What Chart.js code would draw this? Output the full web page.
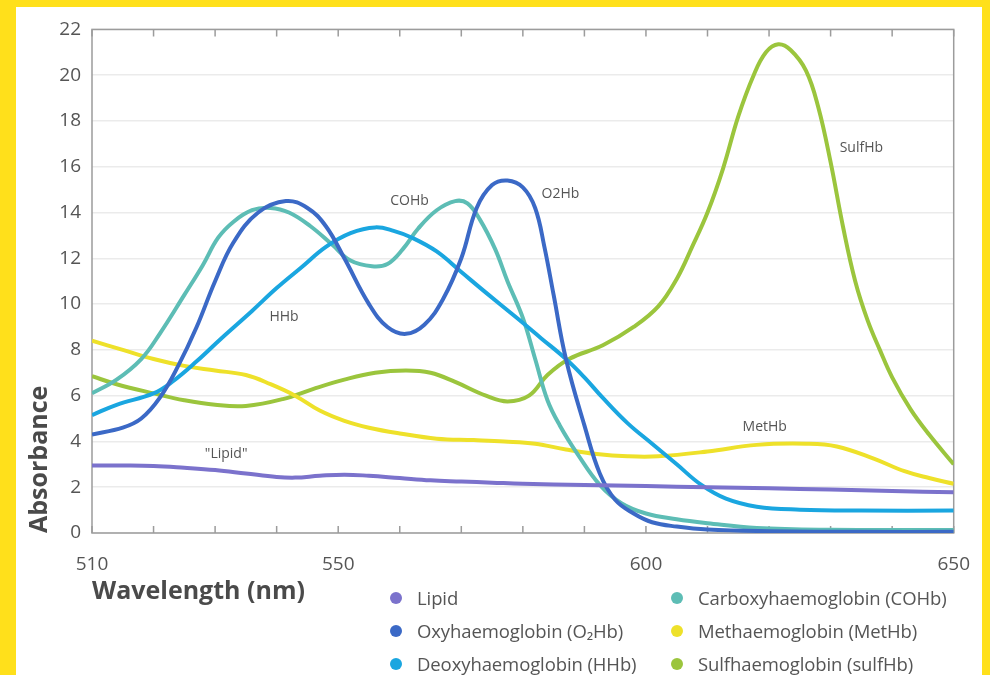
<!DOCTYPE html>
<html>
<head>
<meta charset="utf-8">
<script src="https://cdn.jsdelivr.net/npm/chart.js@4.4.0/dist/chart.umd.min.js"></script>
<style>
  html, body { margin: 0; padding: 0; }
  body { width: 990px; height: 675px; background: #ffe01b; position: relative; overflow: hidden; font-family: "Open Sans", sans-serif; }
  #panel { position: absolute; left: 16px; top: 7px; width: 966px; height: 668px; background: #fff; }
  #chartjs_spectra { position: absolute; left: 0; top: 0; }
  #legend { position: absolute; left: 374px; top: 574px; display: grid; grid-template-rows: repeat(3, 33px); grid-auto-flow: column; grid-template-columns: 281px 300px; }
  .item { display: flex; align-items: center; font-size: 18.5px; color: #555; white-space: nowrap; letter-spacing: -0.1px; }
  .dot { width: 12px; height: 12px; border-radius: 50%; margin-right: 15px; flex: none; }
</style>
</head>
<body>
<div id="panel">
  <canvas id="chartjs_spectra" width="966" height="668"></canvas>
  <div id="legend"></div>
</div>
<script>
// wavelength (nm) / absorbance pairs
var lipidNm  = [510, 515, 520, 525, 530, 535, 540, 543, 547, 551, 555, 560, 565, 570, 575, 580, 590, 600, 610, 620, 630, 640, 650];
var lipidAbs = [2.95, 2.95, 2.93, 2.85, 2.75, 2.6, 2.45, 2.42, 2.5, 2.55, 2.5, 2.4, 2.3, 2.25, 2.2, 2.15, 2.1, 2.05, 2.0, 1.95, 1.9, 1.83, 1.78];

var o2hbNm  = [510, 515, 518, 521, 524, 527, 530, 533, 537, 541.5, 545, 548, 551, 555, 558, 561, 564, 567, 570, 572.5, 575, 577.5, 580, 582, 583.5, 585, 587, 590, 592.5, 595, 598, 601, 605, 610, 620, 635, 650];
var o2hbAbs = [4.3, 4.6, 5.0, 5.9, 7.3, 9.0, 11.0, 12.7, 14.0, 14.5, 14.2, 13.4, 12.0, 10.0, 9.0, 8.7, 9.1, 10.2, 12.0, 14.2, 15.2, 15.4, 15.1, 14.2, 12.5, 10.4, 7.6, 4.7, 2.6, 1.45, 0.85, 0.47, 0.28, 0.15, 0.08, 0.05, 0.05];

var hhbNm  = [510, 514, 520, 523, 527, 531, 536, 540, 544, 548, 552, 556, 559, 562, 566, 570, 574, 579, 583, 587, 590, 593, 597, 601, 605, 609, 613, 618, 625, 635, 650];
var hhbAbs = [5.15, 5.6, 6.1, 6.6, 7.5, 8.5, 9.7, 10.7, 11.6, 12.5, 13.1, 13.35, 13.2, 12.9, 12.3, 11.4, 10.5, 9.4, 8.5, 7.6, 6.8, 5.9, 4.8, 3.9, 3.0, 2.1, 1.5, 1.15, 1.02, 0.98, 0.98];

var cohbNm  = [510, 514, 518, 521, 525, 528, 530.5, 533, 536, 539, 542, 545.5, 549, 552, 555.5, 558, 560.5, 563, 566, 569, 571, 573, 575.5, 577.5, 580, 582, 584, 586, 589, 592.5, 596, 600, 605, 610, 618, 630, 650];
var cohbAbs = [6.1, 6.7, 7.6, 8.7, 10.4, 11.7, 12.9, 13.6, 14.1, 14.2, 14.0, 13.4, 12.6, 11.9, 11.65, 11.75, 12.4, 13.3, 14.1, 14.5, 14.4, 13.7, 12.4, 11.0, 9.4, 7.6, 5.8, 4.7, 3.4, 2.1, 1.3, 0.85, 0.6, 0.43, 0.22, 0.14, 0.13];

var methbNm  = [510, 515, 520, 525, 530, 535, 539, 543, 547, 551, 555, 560, 566, 572, 577, 582, 587, 592, 597, 602, 610, 618, 626, 631, 637, 642, 646, 650];
var methbAbs = [8.4, 8.0, 7.6, 7.3, 7.1, 6.9, 6.5, 6.0, 5.35, 4.9, 4.6, 4.35, 4.12, 4.06, 4.0, 3.9, 3.65, 3.45, 3.35, 3.35, 3.56, 3.85, 3.9, 3.78, 3.25, 2.7, 2.4, 2.15];

var sulfhbNm  = [510, 514, 520, 525, 530, 535, 541, 546, 551, 556, 561, 565, 569, 574, 577.5, 581, 584, 587.5, 593, 598, 602, 605, 607.5, 610, 612.5, 615, 617.5, 619.5, 621.5, 623.5, 626, 628, 630, 632, 634, 636, 638, 640, 643, 646, 650];
var sulfhbAbs = [6.85, 6.5, 6.1, 5.8, 5.6, 5.55, 5.85, 6.3, 6.7, 7.0, 7.1, 7.0, 6.6, 6.0, 5.75, 6.0, 6.9, 7.6, 8.2, 9.0, 9.9, 11.1, 12.5, 14.0, 15.9, 18.2, 20.0, 21.0, 21.35, 21.1, 20.2, 18.6, 16.2, 13.4, 11.0, 9.3, 8.0, 6.8, 5.4, 4.3, 3.0];

var seriesNames  = ['Lipid', 'Oxyhaemoglobin (O\u2082Hb)', 'Deoxyhaemoglobin (HHb)', 'Carboxyhaemoglobin (COHb)', 'Methaemoglobin (MetHb)', 'Sulfhaemoglobin (sulfHb)'];
var seriesColors = ['#7b72cc', '#3b69c6', '#1aa6e0', '#5dbdb5', '#eee12a', '#9bc53d'];

// text written next to the curves, in data units
var curveLabels = [
    { text: 'HHb', x: 541.2, y: 9.43 },
    { text: 'COHb', x: 561.6, y: 14.49 },
    { text: 'O2Hb', x: 586.1, y: 14.79 },
    { text: 'SulfHb', x: 635.0, y: 16.81 },
    { text: 'MetHb', x: 619.3, y: 4.63 },
    { text: '"Lipid"', x: 531.8, y: 3.47 }
];
var xLabelTicks = [510, 550, 600, 650];

function pts(nm, abs) {
    return nm.map(function (v, i) { return { x: v, y: abs[i] }; });
}
var allSeries = [
    pts(lipidNm, lipidAbs),
    pts(o2hbNm, o2hbAbs),
    pts(hhbNm, hhbAbs),
    pts(cohbNm, cohbAbs),
    pts(methbNm, methbAbs),
    pts(sulfhbNm, sulfhbAbs)
];

// box round the plot plus small inward ticks top and bottom
var frame = {
    id: 'frame',
    beforeDatasetsDraw: function (chart) {
        var ctx = chart.ctx, a = chart.chartArea, x = chart.scales.x;
        ctx.save();
        ctx.strokeStyle = '#9c9c9c';
        ctx.lineWidth = 1.5;
        ctx.strokeRect(a.left, a.top, a.right - a.left, a.bottom - a.top);
        x.ticks.forEach(function (t) {
            var px = x.getPixelForValue(t.value);
            ctx.beginPath();
            ctx.moveTo(px, a.bottom); ctx.lineTo(px, a.bottom - 7);
            ctx.moveTo(px, a.top); ctx.lineTo(px, a.top + 7);
            ctx.stroke();
        });
        ctx.restore();
    }
};

var labelsOnCurves = {
    id: 'labelsOnCurves',
    afterDatasetsDraw: function (chart) {
        var ctx = chart.ctx, sx = chart.scales.x, sy = chart.scales.y;
        ctx.save();
        ctx.font = '14px "Open Sans", sans-serif';
        ctx.fillStyle = '#555';
        ctx.textAlign = 'center';
        ctx.textBaseline = 'middle';
        curveLabels.forEach(function (l) {
            ctx.fillText(l.text, sx.getPixelForValue(l.x), sy.getPixelForValue(l.y));
        });
        ctx.restore();
    }
};

var ctx = document.getElementById('chartjs_spectra').getContext('2d');
var myChart = new Chart(ctx, {
    type: 'line',
    data: {
        datasets: allSeries.map(function (d, i) {
            return {
                label: seriesNames[i],
                data: d,
                borderColor: seriesColors[i],
                backgroundColor: seriesColors[i],
                borderWidth: 4,
                pointRadius: 0,
                fill: false,
                tension: 0.4
            };
        })
    },
    options: {
        responsive: false,
        animation: false,
        layout: { padding: { left: 0, right: 24, top: 13, bottom: 62 } },
        plugins: {
            legend: { display: false },
            tooltip: { enabled: false }
        },
        scales: {
            x: {
                type: 'linear',
                min: 510,
                max: 650,
                grid: { display: false },
                border: { display: false },
                ticks: {
                    stepSize: 10,
                    autoSkip: false,
                    maxRotation: 0,
                    padding: 12,
                    color: '#555',
                    font: { family: '"Open Sans", sans-serif', size: 19 },
                    callback: function (v) { return xLabelTicks.indexOf(v) >= 0 ? String(v) : ''; }
                },
                title: {
                    display: true,
                    text: 'Wavelength (nm)',
                    align: 'start',
                    color: '#4a4a4a',
                    padding: { top: 0, bottom: 6 },
                    font: { family: '"Open Sans", sans-serif', size: 25, weight: 'bold' }
                },
                afterFit: function (s) { s.height = 80; }
            },
            y: {
                min: 0,
                max: 22,
                grid: { color: '#ebebeb', lineWidth: 1.5, drawTicks: false },
                border: { display: false },
                ticks: {
                    stepSize: 2,
                    padding: 11,
                    color: '#555',
                    font: { family: '"Open Sans", sans-serif', size: 19 }
                },
                title: {
                    display: true,
                    text: 'Absorbance',
                    align: 'start',
                    color: '#4a4a4a',
                    padding: { top: 9, bottom: 0 },
                    font: { family: '"Open Sans", sans-serif', size: 25, weight: 'bold' }
                },
                afterFit: function (s) { s.width = 76; }
            }
        }
    },
    plugins: [frame, labelsOnCurves]
});

// two-column legend under the plot, built from the datasets
var legendEl = document.getElementById('legend');
myChart.data.datasets.forEach(function (ds) {
    var item = document.createElement('div');
    item.className = 'item';
    var dot = document.createElement('span');
    dot.className = 'dot';
    dot.style.background = ds.borderColor;
    item.appendChild(dot);
    item.appendChild(document.createTextNode(ds.label));
    legendEl.appendChild(item);
});
</script>
</body>
</html>
